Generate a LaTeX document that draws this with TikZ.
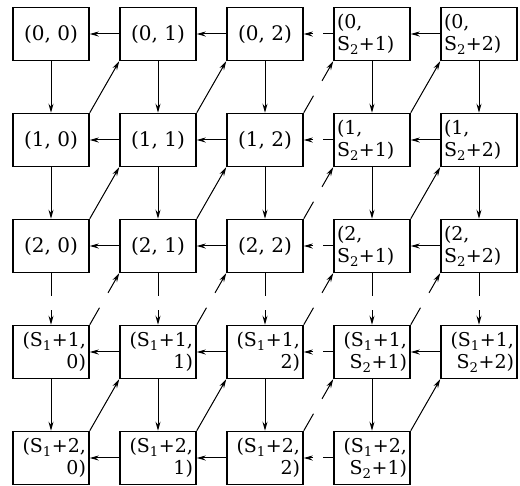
\documentclass[tikz,border=0pt]{standalone}
\usepackage{fontspec}
\setmainfont{DejaVu Serif}
\usetikzlibrary{arrows.meta,calc}
\newcommand\Sone{S\textsubscript{1}}
\newcommand\Stwo{S\textsubscript{2}}
\newcommand\brokenlink[4]{%
  \draw[conn] (#1) -- ($(#1)!#3!(#2)$);
  \draw[arr] ($(#1)!#4!(#2)$) -- (#2);}
\tikzset{
  box/.style={draw, line width=1.5pt, minimum width=76pt, minimum height=53pt,
    inner sep=1pt, font=\fontsize{20}{23}\selectfont},
  lbox/.style={box, align=left, text width=70pt, font=\fontsize{19}{22}\selectfont},
  rbox/.style={box, align=right, text width=70pt, font=\fontsize{19}{22}\selectfont},
  conn/.style={line width=1pt},
  arr/.style={conn, -{Stealth[length=9pt,width=5pt]}},
}
\begin{document}
\begin{tikzpicture}[x=1pt,y=1pt]
\useasboundingbox (0,0) rectangle (520,486);
% row 0
\node[box]  (n00) at (51,452)  {(0, 0)};
\node[box]  (n01) at (158,452) {(0, 1)};
\node[box]  (n02) at (265,452) {(0, 2)};
\node[lbox] (n03) at (372,452) {(0,\\ \Stwo+1)};
\node[lbox] (n04) at (479,452) {(0,\\ \Stwo+2)};
% row 1
\node[box]  (n10) at (51,346)  {(1, 0)};
\node[box]  (n11) at (158,346) {(1, 1)};
\node[box]  (n12) at (265,346) {(1, 2)};
\node[lbox] (n13) at (372,346) {(1,\\ \Stwo+1)};
\node[lbox] (n14) at (479,346) {(1,\\ \Stwo+2)};
% row 2
\node[box]  (n20) at (51,240)  {(2, 0)};
\node[box]  (n21) at (158,240) {(2, 1)};
\node[box]  (n22) at (265,240) {(2, 2)};
\node[lbox] (n23) at (372,240) {(2,\\ \Stwo+1)};
\node[lbox] (n24) at (479,240) {(2,\\ \Stwo+2)};
% row 3
\node[rbox] (n30) at (51,134)  {(\Sone+1,\\ 0)};
\node[rbox] (n31) at (158,134) {(\Sone+1,\\ 1)};
\node[rbox] (n32) at (265,134) {(\Sone+1,\\ 2)};
\node[rbox] (n33) at (372,134) {(\Sone+1,\\ \Stwo+1)};
\node[rbox] (n34) at (479,134) {(\Sone+1,\\ \Stwo+2)};
% row 4
\node[rbox] (n40) at (51,28)   {(\Sone+2,\\ 0)};
\node[rbox] (n41) at (158,28)  {(\Sone+2,\\ 1)};
\node[rbox] (n42) at (265,28)  {(\Sone+2,\\ 2)};
\node[rbox] (n43) at (372,28)  {(\Sone+2,\\ \Stwo+1)};
% horizontal connectors
\foreach \r in {0,...,4}{
  \draw[arr] (n\r1.west) -- (n\r0.east);
  \draw[arr] (n\r2.west) -- (n\r1.east);
  \brokenlink{n\r3.west}{n\r2.east}{0.35}{0.68}
}
\foreach \r in {0,...,3}{
  \draw[arr] (n\r4.west) -- (n\r3.east);
}
% vertical connectors
\foreach \c in {0,...,4}{
  \draw[arr] (n0\c.south) -- (n1\c.north);
  \draw[arr] (n1\c.south) -- (n2\c.north);
  \brokenlink{n2\c.south}{n3\c.north}{0.45}{0.72}
}
\foreach \c in {0,...,3}{
  \draw[arr] (n3\c.south) -- (n4\c.north);
}
% diagonal connectors
\foreach \r in {1,...,4}{
  \foreach \c in {0,...,3}{
    \pgfmathtruncatemacro\rr{\r-1}
    \pgfmathtruncatemacro\cc{\c+1}
    \ifnum\c=2
      \brokenlink{n\r\c.north east}{n\rr\cc.south west}{0.33}{0.62}
    \else\ifnum\r=3
      \brokenlink{n\r\c.north east}{n\rr\cc.south west}{0.33}{0.62}
    \else
      \draw[arr] (n\r\c.north east) -- (n\rr\cc.south west);
    \fi\fi
  }
}
\end{tikzpicture}
\end{document}
